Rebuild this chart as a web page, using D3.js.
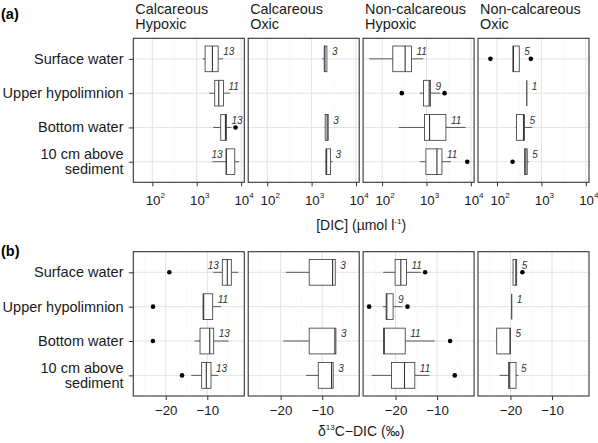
<!DOCTYPE html>
<html><head><meta charset="utf-8">
<script src="https://cdn.jsdelivr.net/npm/d3@7"></script>
<style>body{margin:0;background:#fff}svg{display:block;font-family:"Liberation Sans",Arial,Helvetica,sans-serif}</style>
</head><body><svg id="c" width="598" height="443"></svg>
<script>
// ---- data ----
const groups = ["Calcareous\nHypoxic", "Calcareous\nOxic", "Non-calcareous\nHypoxic", "Non-calcareous\nOxic"];
const depths = ["Surface water", "Upper hypolimnion", "Bottom water", "10 cm above\nsediment"];
const dicTicks = [1e2, 1e3, 1e4];
const dicMinor = [Math.pow(10, 2.5), Math.pow(10, 3.5)];
const d13Ticks = [-20, -10];
const d13Minor = [-25, -15, -5];

// [DIC] (umol/l): [min, q1, median, q3, max] per group (rows) x depth (cols)
const dicStats = [
  [[1365, 1545, 2260, 3040, 3945], [1905, 2550, 3140, 4000, 5560], [2345, 3480, 4440, 4680, 6070], [2260, 4600, 4650, 7210, 9060]],
  [[1733, 1923, 1995, 2213, 2213], null, [1950, 2023, 2240, 2366, 2366], [1995, 2100, 2178, 2680, 2972]],
  [[51, 174, 330, 459, 843], [710, 855, 1150, 1230, 2037], [238, 902, 1170, 2737, 7590], [710, 969, 1717, 2228, 3556]],
  [[228, 228, 235, 317, 317], [469, 469, 469, 469, 469], [262, 276, 395, 417, 620], [417, 417, 446, 479, 520]]
];
const dicN = [[13, 11, 13, 13], [3, null, 3, 3], [11, 9, 11, 11], [5, 1, 5, 5]];
const dicOut = [
  [[], [], [7480], []],
  [[], [], [], []],
  [[], [278, 2549], [], [8280]],
  [[71, 577], [], [], [224]]
];

// d13C-DIC (permil): [min, q1, median, q3, max]
const d13Stats = [
  [[-8.56, -6.39, -5.19, -4.23, -2.55], [-11.1, -11.03, -10.87, -8.7, -6.7], [-13.03, -11.75, -9.42, -8.46, -4.86], [-13.85, -11.35, -10.24, -9.11, -7.36]],
  [[-18.73, -13.13, -7.5, -6.87, -6.87], null, [-19.37, -13.13, -6.95, -6.7, -6.7], [-13.9, -10.95, -7.74, -7.36, -7.36]],
  [[-22.98, -20.1, -18.73, -17.36, -13.9], [-23.05, -22.26, -22.1, -20.58, -18.32], [-23.05, -22.9, -22.7, -17.67, -10.55], [-25.7, -20.96, -17.84, -15.36, -11.83]],
  [[-19.5, -19.37, -18.7, -18.49, -18.49], [-19.69, -19.69, -19.69, -19.69, -19.69], [-23.5, -23.3, -20.1, -20.0, -20.0], [-22.57, -20.48, -20.17, -18.65, -18.08]]
];
const d13N = [[13, 11, 13, 13], [3, null, 3, 3], [11, 9, 11, 11], [5, 1, 5, 5]];
const d13Out = [
  [[-19.13], [-23.05], [-23.1], [-16.08]],
  [[], [], [], []],
  [[-12.88], [-26.35, -17.12], [-6.87], [-5.75]],
  [[-17.12], [], [], []]
];

// ---- layout ----
const svg = d3.select("#c");
const left0 = 133.3, pitch = 114.9, pW = 111;
const dark = "#333333", gridC = "#e3e3e3";

function drawBlock(cfg) {
  const {top, bottom, stats, ns, outs, makeX, ticks, minor, tickLabel, tickLabelY} = cfg;
  const y = d3.scalePoint().domain(depths).range([top, bottom]).padding(0.6);
  const bh = y.step() * 0.75;
  groups.forEach((g, gi) => {
    const L = left0 + gi * pitch, R = L + pW;
    const x = makeX([L, R]);
    const p = svg.append("g");
    // minor grid
    p.selectAll(".mn").data(minor).join("line")
      .attr("x1", d => x(d)).attr("x2", d => x(d)).attr("y1", top).attr("y2", bottom)
      .attr("stroke", "#ebebeb").attr("stroke-width", 0.8).attr("stroke-dasharray", "1,2");
    // major grid
    p.selectAll(".mj").data(ticks).join("line")
      .attr("x1", d => x(d)).attr("x2", d => x(d)).attr("y1", top).attr("y2", bottom)
      .attr("stroke", gridC).attr("stroke-width", 1);
    p.selectAll(".hy").data(depths).join("line")
      .attr("x1", L).attr("x2", R).attr("y1", d => y(d)).attr("y2", d => y(d))
      .attr("stroke", gridC).attr("stroke-width", 1);
    // boxes
    depths.forEach((dp, di) => {
      const s = stats[gi][di];
      if (!s) return;
      const [mn, q1, md, q3, mx] = s;
      const cy = y(dp);
      const b = p.append("g").attr("stroke", dark).attr("stroke-width", 0.8).attr("fill", "none");
      b.append("line").attr("x1", x(mn)).attr("x2", x(q1)).attr("y1", cy).attr("y2", cy);
      b.append("line").attr("x1", x(q3)).attr("x2", x(mx)).attr("y1", cy).attr("y2", cy);
      if (x(q3) - x(q1) > 0.5) {
        b.append("rect").attr("x", x(q1)).attr("y", cy - bh / 2).attr("width", x(q3) - x(q1)).attr("height", bh).attr("fill", "#fff");
      }
      b.append("line").attr("x1", x(md)).attr("x2", x(md)).attr("y1", cy - bh / 2).attr("y2", cy + bh / 2).attr("stroke-width", 1.1);
      outs[gi][di].forEach(o => {
        p.append("circle").attr("cx", x(o)).attr("cy", cy).attr("r", 2.3).attr("fill", "#000");
      });
      // n label
      const n = ns[gi][di];
      const lbl = String(n);
      const w = lbl.length * 5.6;
      let tx = x(q3) + 5, anchor = "start";
      if (tx + w > R - 1) { tx = x(q1) - 3.5; anchor = "end"; }
      p.append("text").attr("x", tx).attr("y", cy - 3.6).attr("text-anchor", anchor)
        .attr("font-size", 10).attr("font-style", "italic").attr("fill", dark).text(lbl);
    });
    // border
    p.append("rect").attr("x", L).attr("y", top).attr("width", pW).attr("height", bottom - top)
      .attr("fill", "none").attr("stroke", dark).attr("stroke-width", 1.1);
    // x axis
    const ax = svg.append("g").attr("transform", `translate(0,${bottom})`)
      .call(d3.axisBottom(x).tickValues(ticks).tickSize(4).tickFormat(""));
    ax.select(".domain").remove();
    ax.selectAll(".tick line").attr("stroke", dark).attr("stroke-width", 1);
    ax.selectAll(".tick").each(function (d) {
      tickLabel(d3.select(this), d, tickLabelY);
    });
    // strip label
    if (cfg.strip) {
      const t = svg.append("text").attr("x", L + 2).attr("y", 14.3).attr("font-size", 14.4).attr("fill", "#1a1a1a");
      g.split("\n").forEach((ln, i) => t.append("tspan").attr("x", L + 2).attr("dy", i ? 15 : 0).text(ln));
    }
    // y axis on first panel
    if (gi === 0) {
      const ay = svg.append("g").attr("transform", `translate(${L},0)`)
        .call(d3.axisLeft(y).tickSize(4.5).tickFormat(""));
      ay.select(".domain").remove();
      ay.selectAll(".tick line").attr("stroke", dark);
      depths.forEach(dp => {
        const lines = dp.split("\n");
        const cy = y(dp);
        const t = svg.append("text").attr("text-anchor", "end").attr("font-size", 14.5).attr("fill", "#1a1a1a");
        lines.forEach((ln, i) => {
          const by = lines.length === 1 ? cy + 5 : cy - 2.4 + i * 15;
          t.append("tspan").attr("x", 123.5).attr("y", by).text(ln);
        });
      });
    }
  });
}

function logLabel(tk, d, yb) {
  const t = tk.append("text").attr("y", yb).attr("text-anchor", "middle").attr("font-size", 13.3).attr("fill", "#1a1a1a")
    .attr("dx", 2.5);
  t.append("tspan").text("10");
  t.append("tspan").attr("font-size", 8).attr("dy", -6.5).text(String(Math.round(Math.log10(d))));
}
function linLabel(tk, d, yb) {
  tk.append("text").attr("y", yb).attr("text-anchor", "middle").attr("font-size", 13.3).attr("fill", "#1a1a1a")
    .text(d3.format("d")(d).replace("-", "\u2212"));
}

drawBlock({
  top: 38.3, bottom: 182.3, stats: dicStats, ns: dicN, outs: dicOut,
  makeX: r => d3.scaleLog().domain([Math.pow(10, 1.572), Math.pow(10, 4.072)]).range(r),
  ticks: dicTicks, minor: dicMinor, tickLabel: logLabel, tickLabelY: 22.7, strip: true
});
drawBlock({
  top: 251.7, bottom: 396, stats: d13Stats, ns: d13N, outs: d13Out,
  makeX: r => d3.scaleLinear().domain([-27.8, -1.1]).range(r),
  ticks: d13Ticks, minor: d13Minor, tickLabel: linLabel, tickLabelY: 19, strip: false
});

// panel tags
svg.append("text").attr("x", 1).attr("y", 19).attr("font-size", 14.5).attr("font-weight", "bold").text("(a)");
svg.append("text").attr("x", 1).attr("y", 255.5).attr("font-size", 14.5).attr("font-weight", "bold").text("(b)");

// axis titles
const cx = left0 + (3 * pitch + pW) / 2;
const t1 = svg.append("text").attr("x", cx).attr("y", 230).attr("text-anchor", "middle").attr("font-size", 14).attr("fill", "#1a1a1a");
t1.append("tspan").text("[DIC] (\u00b5mol l");
t1.append("tspan").attr("font-size", 8).attr("dy", -6).text("-1");
t1.append("tspan").attr("dy", 6).text(")");
const t2 = svg.append("text").attr("x", cx).attr("y", 436).attr("text-anchor", "middle").attr("font-size", 14).attr("fill", "#1a1a1a");
t2.append("tspan").text("\u03b4");
t2.append("tspan").attr("font-size", 8).attr("dy", -6).text("13");
t2.append("tspan").attr("dy", 6).text("C\u2212DIC (\u2030)");
</script></body></html>
